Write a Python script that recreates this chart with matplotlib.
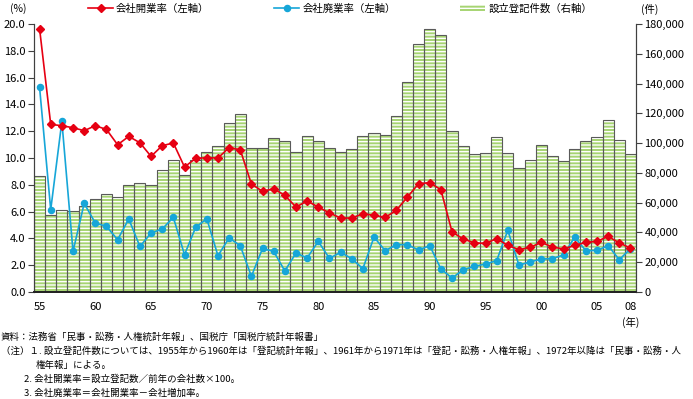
import numpy as np
import matplotlib
matplotlib.use("Agg")
import matplotlib.pyplot as plt
from matplotlib.ticker import FuncFormatter, FixedLocator
from matplotlib.lines import Line2D
from matplotlib.patches import Patch

plt.rcParams['font.family'] = ['Noto Sans CJK JP', 'DejaVu Sans']
plt.rcParams['hatch.linewidth'] = 1.0

years = list(range(1955, 2009))

# 設立登記件数 (件)
registrations = [78100, 51900, 54800, 54100, 57500, 62400, 65800, 63800, 71900, 73200,
                 72000, 81900, 88400, 78600, 88800, 94000, 98200, 113400, 119800, 96700,
                 96700, 103400, 101400, 94000, 104500, 101400, 96400, 93800, 96100, 104900,
                 106800, 105600, 117900, 141200, 166500, 176500, 172700, 107800, 98200, 92900,
                 93400, 104100, 93400, 83000, 88800, 98700, 91500, 88000, 96000, 101200,
                 104100, 115700, 102300, 92900]

# 会社開業率 (%)
open_rate = [19.65, 12.51, 12.41, 12.26, 12.04, 12.41, 12.13, 10.99, 11.61, 11.14,
             10.12, 10.92, 11.12, 9.33, 9.97, 10.02, 10.00, 10.77, 10.62, 8.06,
             7.51, 7.71, 7.21, 6.34, 6.79, 6.34, 5.90, 5.52, 5.52, 5.84,
             5.72, 5.57, 6.09, 7.09, 8.08, 8.16, 7.63, 4.48, 3.96, 3.66,
             3.63, 3.98, 3.48, 3.16, 3.33, 3.70, 3.36, 3.21, 3.48, 3.70,
             3.78, 4.15, 3.66, 3.28]

# 会社廃業率 (%)
close_rate = [15.27, 6.14, 12.73, 3.03, 6.61, 5.15, 4.90, 3.90, 5.45, 3.40,
              4.40, 4.70, 5.57, 2.78, 4.82, 5.47, 2.71, 4.03, 3.46, 1.17,
              3.25, 3.03, 1.57, 2.91, 2.54, 3.78, 2.51, 2.96, 2.49, 1.74,
              4.10, 3.08, 3.53, 3.53, 3.13, 3.46, 1.72, 1.04, 1.66, 1.91,
              2.09, 2.34, 4.60, 2.01, 2.24, 2.46, 2.49, 2.76, 4.10, 3.08,
              3.10, 3.46, 2.41, 3.23]

tick_years = [1955, 1960, 1965, 1970, 1975, 1980, 1985, 1990, 1995, 2000, 2005, 2008]
tick_labels = ['55', '60', '65', '70', '75', '80', '85', '90', '95', '00', '05', '08']

red = '#e60012'
cyan = '#16a6d8'
green = '#a6d472'
edge = '#5a5a5a'

fig = plt.figure(figsize=(6.93, 3.99), dpi=100)
ax = fig.add_axes([34 / 693, 1 - 292 / 399, (636 - 34) / 693, (292 - 24) / 399])
ax2 = ax.twinx()

# bars on the right axis: striped fill, then outline
ax2.bar(years, registrations, width=1.0, color=green, edgecolor='white',
        hatch='-----', linewidth=0, zorder=1)
ax2.bar(years, registrations, width=1.0, fill=False, edgecolor=edge,
        linewidth=0.8, zorder=2)
ax2.set_ylim(0, 180000)
ax2.yaxis.set_major_locator(FixedLocator(range(0, 180001, 20000)))
ax2.yaxis.set_major_formatter(FuncFormatter(lambda v, p: f'{int(v):,}'))

# lines on the left axis, drawn above the bars
ax.set_zorder(ax2.get_zorder() + 1)
ax.patch.set_visible(False)
ax.plot(years, open_rate, color=red, lw=1.2, marker='D', ms=4.4, mec=red, zorder=5)
ax.plot(years, close_rate, color=cyan, lw=1.2, marker='o', ms=4.4, mec=cyan, zorder=4)
ax.set_ylim(0, 20)
ax.set_yticks(np.arange(0, 20.1, 2))
ax.yaxis.set_major_formatter(FuncFormatter(lambda v, p: f'{v:.1f}'))
ax.set_xlim(1954.5, 2008.5)
ax.set_xticks(tick_years)
ax.set_xticklabels(tick_labels)

for a in (ax, ax2):
    a.spines['top'].set_visible(False)
    a.spines['left'].set_color('#404040')
    a.spines['right'].set_color('#404040')
    a.spines['bottom'].set_color('#222222')
    a.spines['bottom'].set_linewidth(1.3)
ax.tick_params(axis='y', length=4, width=0.8, color='#404040', labelsize=8, pad=2)
ax2.tick_params(axis='y', length=4, width=0.8, color='#404040', labelsize=8, pad=2)
ax.tick_params(axis='x', length=0, labelsize=8, pad=7)

fig.text(18 / 693, 1 - 9 / 399, '(%)', fontsize=7.5, ha='center', va='center')
fig.text(650 / 693, 1 - 9 / 399, '(件)', fontsize=7.5, ha='center', va='center')
fig.text(631 / 693, 1 - 322 / 399, '(年)', fontsize=7.5, ha='center', va='center')

handles = [
    Line2D([], [], color=red, lw=1.2, marker='D', ms=4.4),
    Line2D([], [], color=cyan, lw=1.2, marker='o', ms=4.4),
    Patch(facecolor=green, edgecolor='white', hatch='-----', linewidth=0),
]
labels = ['会社開業率（左軸）', '会社廃業率（左軸）', '設立登記件数（右軸）']
fig.legend(handles, labels, loc='center left', bbox_to_anchor=(88 / 693, 1 - 9 / 399),
           ncol=3, frameon=False, fontsize=7.5, handlelength=2.4, handletextpad=0.3,
           columnspacing=6.2, borderaxespad=0, borderpad=0)

notes = [
    (1, 337, '資料：法務省「民事・訟務・人権統計年報」、国税庁「国税庁統計年報書」'),
    (1, 351, '（注）１. 設立登記件数については、1955年から1960年は「登記統計年報」、1961年から1971年は「登記・訟務・人権年報」、1972年以降は「民事・訟務・人'),
    (36, 365, '権年報」による。'),
    (24, 379, '2. 会社開業率＝設立登記数／前年の会社数×100。'),
    (24, 393, '3. 会社廃業率＝会社開業率－会社増加率。'),
]
for x, y, s in notes:
    fig.text(x / 693, 1 - y / 399, s, fontsize=6.8, ha='left', va='center')

fig.savefig('out.png', dpi=100)
